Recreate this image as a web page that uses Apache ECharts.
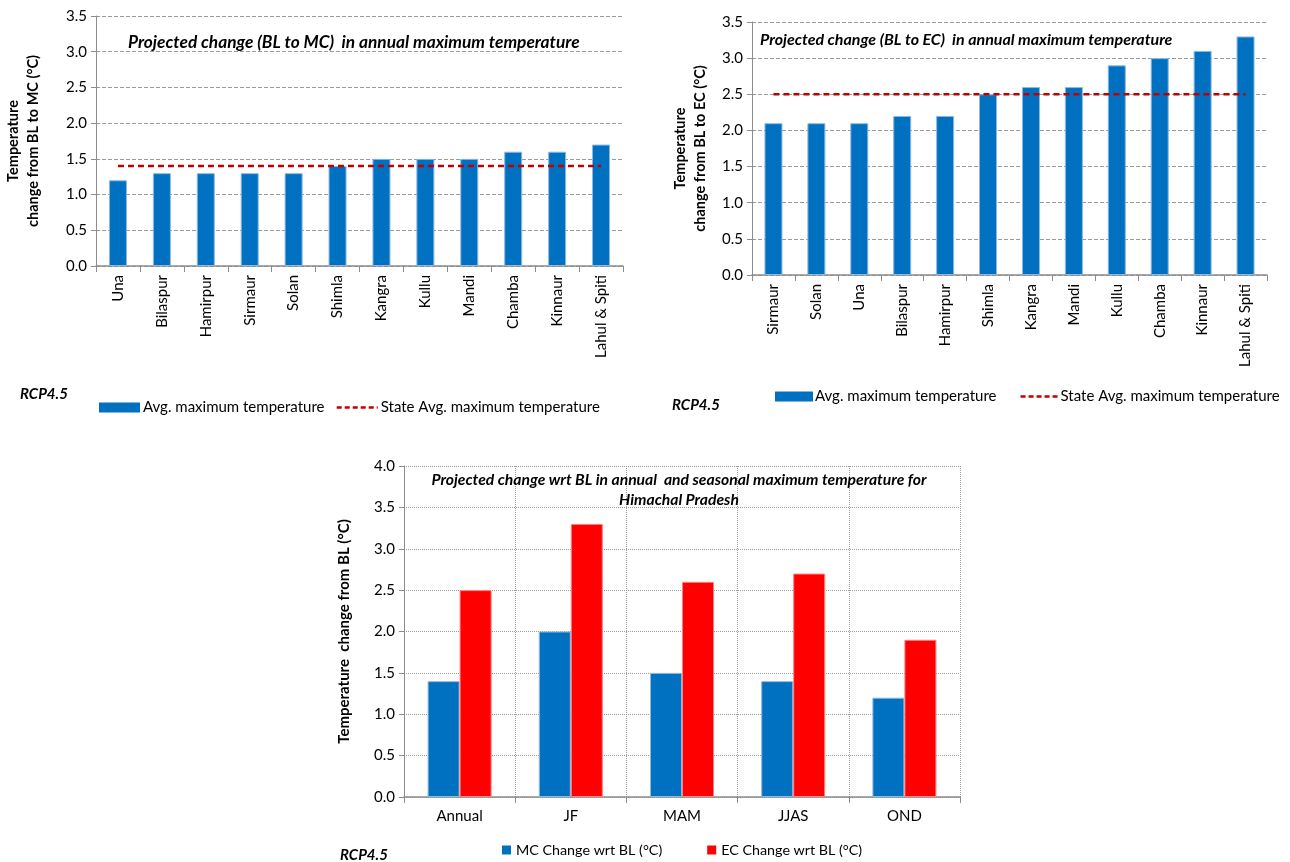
<!DOCTYPE html>
<html><head><meta charset="utf-8">
<script src="https://cdn.jsdelivr.net/npm/echarts@6/dist/echarts.min.js"></script>
<style>html,body{margin:0;padding:0;background:#fff}#c{width:1290px;height:862px}</style>
</head><body><div id="c"></div>
<script>
// ---- data ----
const mcDistricts = ['Una','Bilaspur','Hamirpur','Sirmaur','Solan','Shimla','Kangra','Kullu','Mandi','Chamba','Kinnaur','Lahul & Spiti'];
const mcValues = [1.2,1.3,1.3,1.3,1.3,1.4,1.5,1.5,1.5,1.6,1.6,1.7];
const mcStateAvg = 1.4;
const ecDistricts = ['Sirmaur','Solan','Una','Bilaspur','Hamirpur','Shimla','Kangra','Mandi','Kullu','Chamba','Kinnaur','Lahul & Spiti'];
const ecValues = [2.1,2.1,2.1,2.2,2.2,2.5,2.6,2.6,2.9,3.0,3.1,3.3];
const ecStateAvg = 2.5;
const seasons = ['Annual','JF','MAM','JJAS','OND'];
const mcSeason = [1.4,2.0,1.5,1.4,1.2];
const ecSeason = [2.5,3.3,2.6,2.7,1.9];

const FONT = 'Lato, "Liberation Sans", sans-serif';
const BLUE = '#0070C0', RED = '#FF0000', DRED = '#C00000';
const axisGray = '#8c8c8c';

function yAxis(gi, max, name, nameGap, splitType, nfs){
  return {
    type:'value', gridIndex:gi, min:0, max:max, interval:0.5,
    name:name, nameLocation:'middle', nameGap:nameGap,
    nameTextStyle:{fontFamily:FONT, fontWeight:'bold', fontSize:nfs, color:'#000', lineHeight:20},
    axisLine:{show:true, lineStyle:{color:axisGray, width:1}},
    axisTick:{show:true, length:5, lineStyle:{color:axisGray}},
    axisLabel:{fontFamily:FONT, fontSize:15, color:'#000', margin:9, formatter:v=>v.toFixed(1)},
    splitLine:{show:true, lineStyle:{color:'#9a9a9a', type:splitType, width:1}}
  };
}
function xAxis(gi, cats, rotate, fs, margin, vsplit){
  return {
    type:'category', gridIndex:gi, data:cats,
    axisLine:{lineStyle:{color:axisGray, width:1.5}},
    axisTick:{show:true, length:6, lineStyle:{color:axisGray}},
    axisLabel:{fontFamily:FONT, fontSize:fs, color:'#000', rotate:rotate, margin:margin, interval:0},
    splitLine:{show:!!vsplit, lineStyle:{color:'#9a9a9a', type:'dotted'}}
  };
}
const titleStyle = (fs)=>({fontFamily:FONT, fontSize:fs, fontWeight:'bold', fontStyle:'italic', color:'#000', lineHeight:Math.round(fs*1.3)});
const legText = {fontFamily:FONT, fontSize:15, color:'#000'};
const barLeg = (n)=>({name:n, icon:'rect', itemStyle:{borderWidth:0}});
const lineLeg = (n)=>({name:n, itemStyle:{opacity:0}, lineStyle:{width:2.5, type:[5,3]}});

const chart = echarts.init(document.getElementById('c'), null, {renderer:'canvas'});
chart.setOption({
  animation:false,
  textStyle:{fontFamily:FONT},
  grid:[
    {left:96, top:16, width:527, height:250},
    {left:752, top:22, width:515, height:253},
    {left:404, top:466, width:556, height:331}
  ],
  title:[
    {text:'Projected change (BL to MC)  in annual maximum temperature', left:128, top:31, padding:0, textStyle:titleStyle(17.3)},
    {text:'Projected change (BL to EC)  in annual maximum temperature', left:760, top:29, padding:0, textStyle:titleStyle(16)},
    {text:'Projected change wrt BL in annual  and seasonal maximum temperature for\nHimachal Pradesh', left:679, textAlign:'center', top:470, padding:0, textStyle:Object.assign(titleStyle(15.7),{align:'center'})},
    {text:'RCP4.5', left:20, top:384, padding:0, textStyle:titleStyle(15)},
    {text:'RCP4.5', left:672, top:395, padding:0, textStyle:titleStyle(15)},
    {text:'RCP4.5', left:340, top:845, padding:0, textStyle:titleStyle(15)}
  ],
  legend:[
    {left:99, top:400, padding:0, itemWidth:41, itemHeight:10, itemGap:11,
     data:[barLeg('Avg. maximum temperature'), lineLeg('State Avg. maximum temperature')], textStyle:Object.assign({padding:[0,0,0,-2]},legText)},
    {left:775, top:389, padding:0, itemWidth:38, itemHeight:10, itemGap:19,
     data:[barLeg('Avg. maximum temperature '), lineLeg('State Avg. maximum temperature ')], textStyle:Object.assign({padding:[0,0,0,-3]},legText)},
    {left:502, top:843, padding:0, itemWidth:9, itemHeight:9, itemGap:45,
     data:[barLeg('MC Change wrt BL (°C)'), barLeg('EC Change wrt BL (°C)')], textStyle:{fontFamily:FONT, fontSize:14.3, color:'#000'}}
  ],
  xAxis:[
    xAxis(0, mcDistricts, 90, 15, 9),
    xAxis(1, ecDistricts, 90, 15, 9),
    xAxis(2, seasons, 0, 15, 12, true)
  ],
  yAxis:[
    yAxis(0, 3.5, 'Temperature\nchange from BL to MC (°C)', 53, 'dashed', 14.5),
    yAxis(1, 3.5, 'Temperature\nchange from BL to EC (°C)', 42, 'dashed', 14.5),
    yAxis(2, 4.0, 'Temperature  change from BL (°C)', 50, 'dotted', 15)
  ],
  series:[
    {name:'Avg. maximum temperature', type:'bar', xAxisIndex:0, yAxisIndex:0, data:mcValues, barWidth:18,
     itemStyle:{color:BLUE, borderColor:'#8DB8E2', borderWidth:1}},
    {name:'State Avg. maximum temperature', type:'line', xAxisIndex:0, yAxisIndex:0, data:mcValues.map(()=>mcStateAvg),
     symbol:'none', lineStyle:{color:DRED, width:2.5, type:[6,4]}, itemStyle:{color:DRED}, z:5},
    {name:'Avg. maximum temperature ', type:'bar', xAxisIndex:1, yAxisIndex:1, data:ecValues, barWidth:18,
     itemStyle:{color:BLUE, borderColor:'#8DB8E2', borderWidth:1}},
    {name:'State Avg. maximum temperature ', type:'line', xAxisIndex:1, yAxisIndex:1, data:ecValues.map(()=>ecStateAvg),
     symbol:'none', lineStyle:{color:DRED, width:2.5, type:[6,4]}, itemStyle:{color:DRED}, z:5},
    {name:'MC Change wrt BL (°C)', type:'bar', xAxisIndex:2, yAxisIndex:2, data:mcSeason, barWidth:32, barGap:'0%',
     itemStyle:{color:BLUE, borderColor:'#8DB8E2', borderWidth:1}},
    {name:'EC Change wrt BL (°C)', type:'bar', xAxisIndex:2, yAxisIndex:2, data:ecSeason, barWidth:32, barGap:'0%',
     itemStyle:{color:RED, borderColor:'#FF8080', borderWidth:1}}
  ]
});
</script></body></html>
